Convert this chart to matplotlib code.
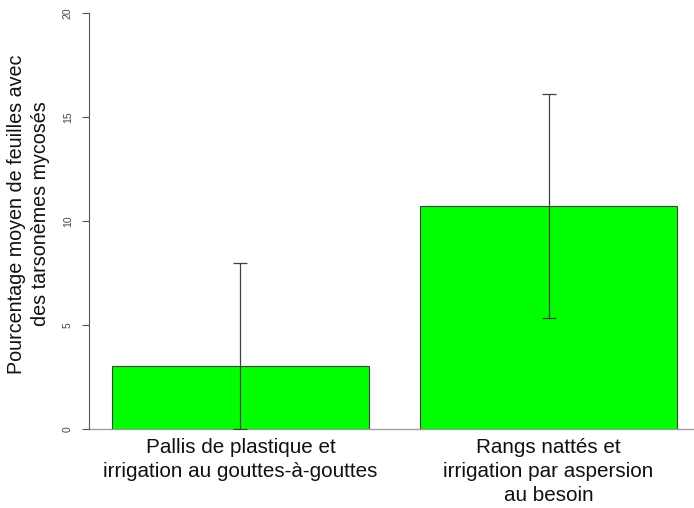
import matplotlib.pyplot as plt
import numpy as np

plt.rcParams['font.family'] = ['Liberation Sans', 'DejaVu Sans']

# Mean percentage of leaves with mite damage, per treatment
treatments = ["Pallis de plastique et\nirrigation au gouttes-à-gouttes",
              "Rangs nattés et\nirrigation par aspersion\nau besoin"]
means = [3.03, 10.72]
errors = [4.93, 5.38]
yticks = [0, 5, 10, 15, 20]

fig = plt.figure(figsize=(6.94, 5.08), dpi=100)
ax = fig.add_axes([0.1288, 0.1555, 0.8792, 0.8189])

x = np.array([0.7, 1.9])
ax.bar(x, means, width=1.0, color="#00ff00", edgecolor="#404040", linewidth=0.8, zorder=2)

# lower whisker stops at zero
lower = [min(e, m) for e, m in zip(errors, means)]
upper = errors
ax.errorbar(x, means, yerr=[lower, upper], fmt="none", ecolor="#404040",
            elinewidth=0.9, capsize=4.7, capthick=0.9, zorder=3)

ax.axhline(0, color="#a0a0a0", linewidth=1.0, zorder=1, clip_on=False)

ax.set_xlim(0.112, 2.488)
ax.set_ylim(0, 20)
ax.set_xticks(x)
ax.set_xticklabels(treatments, fontsize=14.9, linespacing=1.33, color="#111111")
ax.tick_params(axis="x", length=0, pad=6.5)
ax.set_yticks(yticks)
ax.set_yticklabels([str(v) for v in yticks], rotation=90, va="center",
                   fontsize=7.5, color="#444444")
ax.tick_params(axis="y", length=5, width=0.8, color="#555555", pad=7)

for side in ["top", "right", "bottom"]:
    ax.spines[side].set_visible(False)
ax.spines["left"].set_color("#555555")
ax.spines["left"].set_linewidth(0.8)

# y title placed on the figure so it sits in the left margin
fig.text(0.041, 0.579, "Pourcentage moyen de feuilles avec\ndes tarsonèmes mycosés",
         rotation=90, ha="center", va="center", multialignment="center",
         fontsize=14.2, linespacing=1.36, color="#111111")

fig.savefig("out.png", dpi=100)
